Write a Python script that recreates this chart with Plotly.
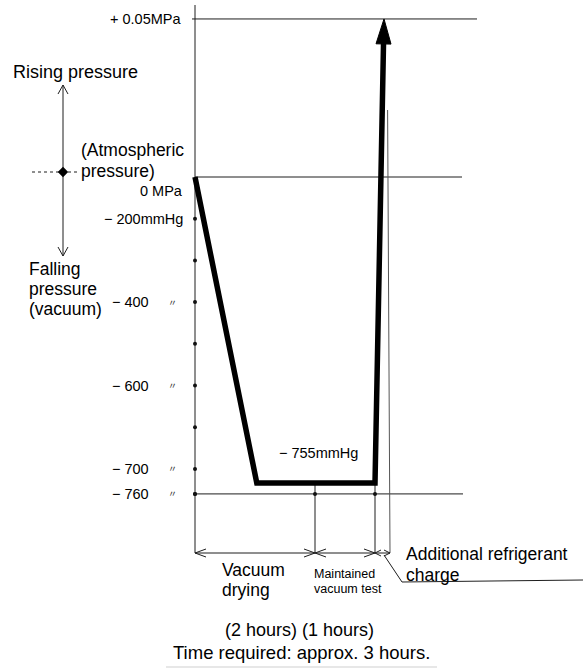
import numpy as np
import plotly.graph_objects as go

# ---------------------------------------------------------------------------
# Data: vacuum drying / hold test / charge sequence
# ---------------------------------------------------------------------------
# time (hours) at each corner of the pressure trace
stage_hours = [0.0, 1.03, 3.0, 3.15]
# gauge pressure at those times (mmHg); +0.05 MPa is about +375 mmHg
stage_mmHg = [0, -755, -755, 375]

# schematic (non-linear) pressure scale: mmHg -> drawing level
scale_mmHg = [-760, -755, -700, -600, -400, -200, 0, 375]
scale_level = [-7.6, -7.34, -7.0, -5.0, -3.0, -1.0, 0.0, 3.79]

# pressure axis labels
tick_mmHg = [375, 0, -200, -400, -600, -700, -760]
tick_text = ["+ 0.05MPa", "0 MPa", "− 200mmHg", "− 400", "− 600", "− 700", "− 760"]
ditto_mmHg = [-400, -600, -700, -760]
# dots along the pressure axis
dot_mmHg = [-200, -300, -400, -500, -600, -650, -700, -760]

# time marks and phases
mark_hours = [0, 2, 3]
phase_bounds = [(0, 2), (2, 3), (3, 3.25)]
charge_end_h = 3.25

# ---------------------------------------------------------------------------
# Drawing scale (layout helpers)
# ---------------------------------------------------------------------------
W, H = 583, 669
X0_PX, PX_PER_H = 195.0, 60.0
Y0_PX, PX_PER_LVL = 177.0, 41.7


def lvl(p):
    return float(np.interp(p, scale_mmHg, scale_level))


def tx(px):
    return (px - X0_PX) / PX_PER_H


def ty(py):
    return (Y0_PX - py) / PX_PER_LVL


def to_px(t, l):
    return X0_PX + t * PX_PER_H, Y0_PX - l * PX_PER_LVL


FONT = "Liberation Sans, Arial, Helvetica, sans-serif"
INK = "#111111"
THIN = "#1e1e1e"

fig = go.Figure()


def seg(xs, ys, width=1.0, color=THIN, dash=None):
    fig.add_trace(go.Scatter(x=xs, y=ys, mode="lines",
                             line=dict(color=color, width=width, dash=dash),
                             hoverinfo="skip", showlegend=False))


def open_head(tip_px, dir_px, length, half):
    """Open 'V' arrowhead drawn from pixel geometry."""
    ux, uy = dir_px
    n = np.hypot(ux, uy)
    ux, uy = ux / n, uy / n
    bx, by = tip_px[0] - ux * length, tip_px[1] - uy * length
    p1 = (bx - uy * half, by + ux * half)
    p2 = (bx + uy * half, by - ux * half)
    seg([tx(p1[0]), tx(tip_px[0]), tx(p2[0])],
        [ty(p1[1]), ty(tip_px[1]), ty(p2[1])], width=1.0)


y_levels = [lvl(p) for p in stage_mmHg]
lvl_top = lvl(375)
lvl_zero = lvl(0)
lvl_bottom = lvl(-760)
lvl_dim = ty(553)

# ---- reference lines -------------------------------------------------------
seg([0, 0], [ty(5), lvl_dim])                           # pressure axis
seg([tx(192), tx(477)], [lvl_top, lvl_top])             # +0.05 MPa
seg([0, tx(462)], [lvl_zero, lvl_zero])                 # atmospheric
seg([0, tx(463)], [lvl_bottom, lvl_bottom])             # -760 mmHg
seg([2, 2], [y_levels[1], lvl_dim])
seg([3, 3], [y_levels[2], lvl_dim])
seg([charge_end_h - 0.04, charge_end_h], [ty(110), lvl_dim], color="#555555")

# ---- axis dots -------------------------------------------------------------
fig.add_trace(go.Scatter(x=[0] * len(dot_mmHg), y=[lvl(p) for p in dot_mmHg],
                         mode="markers", marker=dict(color=INK, size=4),
                         hoverinfo="skip", showlegend=False))
fig.add_trace(go.Scatter(x=mark_hours, y=[lvl_bottom] * len(mark_hours),
                         mode="markers", marker=dict(color=INK, size=4),
                         hoverinfo="skip", showlegend=False))

# ---- pressure trace with arrow ---------------------------------------------
tip = to_px(stage_hours[3], y_levels[3])
base = to_px(stage_hours[2], y_levels[2])
ux, uy = tip[0] - base[0], tip[1] - base[1]
nrm = np.hypot(ux, uy)
ux, uy = ux / nrm, uy / nrm
HEAD_LEN, HEAD_HALF = 25.0, 7.5
shaft_end = (tip[0] - ux * (HEAD_LEN - 4), tip[1] - uy * (HEAD_LEN - 4))
hb = (tip[0] - ux * HEAD_LEN, tip[1] - uy * HEAD_LEN)
c1 = (hb[0] - uy * HEAD_HALF, hb[1] + ux * HEAD_HALF)
c2 = (hb[0] + uy * HEAD_HALF, hb[1] - ux * HEAD_HALF)

fig.add_trace(go.Scatter(
    x=stage_hours[:3] + [tx(shaft_end[0])],
    y=y_levels[:3] + [ty(shaft_end[1])],
    mode="lines", line=dict(color="black", width=5.5),
    hoverinfo="skip", showlegend=False))
fig.add_trace(go.Scatter(
    x=[tx(c1[0]), tx(tip[0]), tx(c2[0]), tx(c1[0])],
    y=[ty(c1[1]), ty(tip[1]), ty(c2[1]), ty(c1[1])],
    mode="lines", fill="toself", fillcolor="black",
    line=dict(color="black", width=1),
    hoverinfo="skip", showlegend=False))

# ---- phase dimension arrows ------------------------------------------------
for a, b in phase_bounds:
    seg([a, b], [lvl_dim, lvl_dim])
    pa, pb = to_px(a, lvl_dim), to_px(b, lvl_dim)
    span = pb[0] - pa[0]
    hl = min(11.0, span * 0.4)
    hh = 4.0 if span > 30 else 3.0
    open_head(pa, (-1, 0), hl, hh)
    open_head(pb, (1, 0), hl, hh)

# leader line for the charge label
seg([tx(384), tx(402), tx(583)], [ty(555), ty(582), ty(580)])

# ---- rising / falling pressure indicator -----------------------------------
seg([tx(63), tx(63)], [ty(85), ty(256)])
open_head((63, 85), (0, -1), 9, 5)
open_head((63, 256), (0, 1), 9, 5)
seg([tx(32), tx(77)], [ty(172), ty(172)], dash="3px,3px")
fig.add_trace(go.Scatter(x=[tx(63)], y=[ty(172)], mode="markers",
                         marker=dict(symbol="diamond", color="black", size=8),
                         hoverinfo="skip", showlegend=False))

# ---------------------------------------------------------------------------
# Text
# ---------------------------------------------------------------------------
ann = []


def label(text, px, py, size=18, anchor="left", family=FONT):
    ann.append(dict(text=text, x=tx(px), y=ty(py), xref="x", yref="y",
                    showarrow=False, xanchor=anchor, yanchor="middle",
                    font=dict(family=family, size=size, color="black")))


def block(lines, px, py_center, size=17.5, step=20.3):
    """Stack of left-aligned lines centred on py_center."""
    n = len(lines)
    for i, t in enumerate(lines):
        label(t, px, py_center + (i - (n - 1) / 2) * step, size=size)


# pressure scale labels
tick_offsets = {375: (183, 0), 0: (185, 14), -200: (185, 0)}
for p, t in zip(tick_mmHg, tick_text):
    right, dy = tick_offsets.get(p, (151, 0))
    ann.append(dict(text=t, x=tx(right), y=lvl(p) - dy / PX_PER_LVL,
                    xref="x", yref="y", showarrow=False, xanchor="right",
                    yanchor="middle",
                    font=dict(family=FONT, size=14.5, color="black")))
for p in ditto_mmHg:
    ann.append(dict(text="〃", x=tx(172), y=lvl(p), xref="x", yref="y",
                    showarrow=False, xanchor="center", yanchor="middle",
                    font=dict(family="Noto Sans CJK JP", size=9, color="#333")))

label("− 755mmHg", 277, 453, size=14.5)

label("Rising pressure", 11, 72)
block(["(Atmospheric", "pressure)"], 79, 160.5)
block(["Falling", "pressure", "(vacuum)"], 27, 289)

block(["Vacuum", "drying"], 220, 580)
block(["Maintained", "vacuum test"], 312, 581.5, size=12.5, step=15)
block(["Additional refrigerant", "charge"], 404, 564.5)

label("(2 hours) (1 hours)", 299, 630, anchor="center")
label("Time required: approx. 3 hours.", 301, 652, size=18.5, anchor="center")

fig.add_shape(type="line", xref="x", yref="y", x0=tx(166), x1=tx(437),
              y0=ty(667), y1=ty(667), line=dict(color="#cfcfcf", width=1))

fig.update_layout(
    width=W, height=H,
    margin=dict(l=0, r=0, t=0, b=0),
    paper_bgcolor="white", plot_bgcolor="white",
    showlegend=False,
    annotations=ann,
    xaxis=dict(range=[tx(0), tx(W)], visible=False, fixedrange=True),
    yaxis=dict(range=[ty(H), ty(0)], visible=False, fixedrange=True),
)

fig.write_html("out.html")
